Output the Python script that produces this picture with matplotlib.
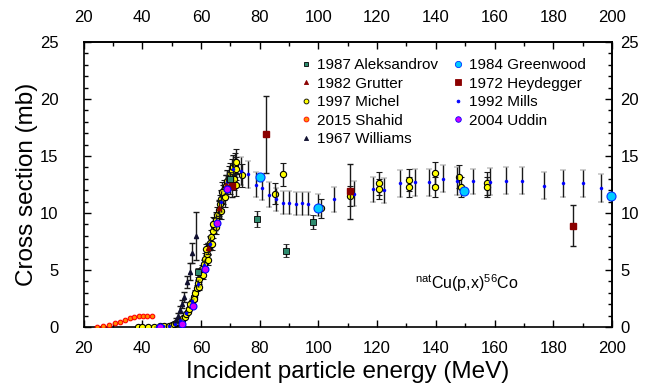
import matplotlib
matplotlib.use("Agg")
import matplotlib.pyplot as plt
from matplotlib.lines import Line2D

plt.rcParams['font.family'] = ['Liberation Sans', 'DejaVu Sans']
plt.rcParams['mathtext.fontset'] = 'custom'
plt.rcParams['mathtext.rm'] = 'Liberation Sans'
plt.rcParams['mathtext.it'] = 'Liberation Sans:italic'

# ---------------- data ----------------
aleks_E = [59.0, 70.0, 79.1, 89.0, 98.2]
aleks_s = [4.8, 13.0, 9.5, 6.7, 9.2]
aleks_e = [0.4, 0.6, 0.7, 0.6, 0.6]

green_E = [80.2, 99.9, 149.7, 199.7]
green_s = [13.2, 10.4, 11.9, 11.5]

grut_E = [62.5, 66.0, 68.5]
grut_s = [6.9, 10.4, 12.5]
grut_e = [0.5, 0.7, 0.8]

heyd_E = [70.5, 82.0, 110.8, 186.7]
heyd_s = [12.4, 16.9, 11.9, 8.9]
heyd_e = [1.0, 3.4, 2.4, 1.8]

mich_E = [38.5, 40.0, 42.0, 44.0, 46.0, 47.5, 49.0, 50.0, 50.8, 51.5,
          52.2, 52.8, 53.4, 54.0, 54.5, 55.0, 55.5, 56.0, 56.5, 57.0,
          57.5, 58.0, 58.5, 59.0, 59.5, 60.0, 60.5, 61.0, 61.5, 62.0,
          62.5, 63.0, 63.5, 64.0, 64.5, 65.0, 65.5, 66.0, 66.5, 67.0,
          67.5, 68.0, 68.5, 69.0, 69.5, 70.0, 70.5, 71.0, 71.5, 72.0,
          56.2, 57.8, 59.3, 60.8, 62.3, 63.8, 65.2, 66.8, 68.3, 69.8,
          71.2, 72.0, 71.8, 61.8, 64.2, 67.2,
          73.9, 85.3, 88.0, 101.0, 110.8, 120.7, 120.7, 130.8, 130.8,
          139.8, 139.8, 147.8, 148.7, 157.4, 157.4]
mich_s = [0.0, 0.0, 0.0, 0.02, 0.05, 0.08, 0.12, 0.18, 0.25, 0.32,
          0.42, 0.52, 0.63, 0.78, 0.92, 1.1, 1.35, 1.6, 1.9, 2.2,
          2.6, 3.0, 3.4, 3.85, 4.25, 4.65, 5.1, 5.5, 6.0, 6.4,
          6.9, 7.4, 7.9, 8.4, 8.9, 9.4, 9.8, 10.3, 10.8, 11.2,
          11.6, 12.0, 12.4, 12.8, 13.1, 13.4, 13.7, 14.0, 14.2, 13.9,
          2.0, 2.5, 3.5, 4.6, 5.9, 7.3, 8.8, 10.2, 11.4, 12.6,
          13.0, 12.5, 14.5, 6.8, 9.0, 11.8,
          13.3, 11.7, 13.4, 10.4, 11.5, 12.6, 12.1, 12.9, 12.3,
          13.5, 12.3, 13.2, 12.3, 12.6, 12.3]
mich_e = [0.0, 0.0, 0.0, 0.01, 0.01, 0.01, 0.02, 0.02, 0.03, 0.03,
          0.04, 0.05, 0.05, 0.06, 0.07, 0.08, 0.1, 0.12, 0.14, 0.16,
          0.2, 0.22, 0.25, 0.28, 0.3, 0.35, 0.38, 0.4, 0.45, 0.48,
          0.5, 0.55, 0.6, 0.62, 0.65, 0.7, 0.72, 0.75, 0.8, 0.85,
          0.85, 0.9, 0.9, 0.95, 1.0, 1.0, 1.0, 1.05, 1.05, 1.0,
          0.15, 0.2, 0.27, 0.35, 0.45, 0.55, 0.65, 0.75, 0.85, 0.95,
          1.0, 1.0, 1.1, 0.5, 0.65, 0.9,
          1.0, 0.9, 1.0, 0.8, 0.9, 1.0, 0.9, 1.0, 0.9,
          1.0, 0.9, 1.0, 0.9, 1.0, 0.9]

mills_E = [45.0, 47.0, 49.0, 51.0, 53.0, 55.0, 57.0, 59.0, 61.0, 63.0,
           65.0, 67.0, 69.0, 71.0,
           73.6, 76.1, 78.6, 80.9, 83.3, 85.6, 87.8, 90.1, 92.3, 94.3,
           96.6, 99.8, 105.4, 112.2, 118.7, 122.4, 127.8, 132.9, 137.8, 142.5,
           147.1, 152.8, 158.5, 163.9, 169.2, 177.0, 183.4, 190.0, 196.3]
mills_s = [0.0, 0.05, 0.12, 0.3, 0.6, 1.2, 2.3, 3.8, 5.4, 7.3,
           9.2, 11.0, 12.7, 13.9,
           13.7, 13.4, 12.5, 12.2, 11.6, 11.2, 10.9, 10.9, 10.8, 10.85,
           10.8, 10.7, 11.2, 11.7, 12.1, 12.0, 12.6, 12.7, 12.7, 13.0,
           12.8, 12.8, 12.75, 12.85, 12.85, 12.4, 12.6, 12.6, 12.2]
mills_e = [0.0, 0.01, 0.02, 0.03, 0.05, 0.1, 0.2, 0.3, 0.45, 0.6,
           0.75, 0.9, 1.0, 1.1,
           1.2, 1.2, 1.1, 1.1, 1.1, 1.0, 1.0, 1.0, 1.0, 1.0,
           1.0, 1.0, 1.1, 1.1, 1.1, 1.1, 1.2, 1.2, 1.2, 1.2,
           1.2, 1.1, 1.2, 1.2, 1.2, 1.2, 1.2, 1.2, 1.2]

shah_E = [24.7, 26.7, 28.8, 30.7, 32.4, 34.1, 35.8, 37.2, 38.9, 40.4, 41.7, 43.2]
shah_s = [0.0, 0.1, 0.2, 0.35, 0.47, 0.6, 0.75, 0.9, 0.96, 0.96, 1.0, 1.0]

udd_E = [46.0, 53.4, 57.4, 61.4, 65.4, 68.8]
udd_s = [0.02, 0.26, 1.8, 5.1, 9.1, 12.1]

will_E = [51.5, 52.3, 52.9, 53.6, 54.3, 55.4, 56.3, 57.1, 58.3]
will_s = [0.6, 1.0, 1.5, 2.0, 2.65, 3.95, 4.85, 6.5, 8.0]
will_e = [0.2, 0.25, 0.3, 0.35, 0.45, 0.55, 0.75, 0.9, 2.1]

xticks = [20, 40, 60, 80, 100, 120, 140, 160, 180, 200]
xminor = [30, 50, 70, 90, 110, 130, 150, 170, 190]
yticks = [0, 5, 10, 15, 20, 25]
yminor = [v for v in range(1, 25) if v % 5 != 0]

labels = ['1987 Aleksandrov', '1982 Grutter', '1997 Michel', '2015 Shahid', '1967 Williams',
          '1984 Greenwood', '1972 Heydegger', '1992 Mills', '2004 Uddin']

# ---------------- figure ----------------
fig = plt.figure(figsize=(6.49, 3.83), dpi=100)
ax = fig.add_axes([83.5/649, 1-327/383, (612-83.5)/649, (327-42)/383])

ebkw = dict(ecolor='#1a1a1a', elinewidth=1.0, capsize=2, capthick=1.0, linestyle='none')

ax.errorbar(mich_E, mich_s, yerr=mich_e, fmt='o', ms=4.5, mfc='#FFFF00', mec='black',
            mew=0.8, zorder=3, **ebkw)
ax.errorbar(mills_E, mills_s, yerr=mills_e, fmt='o', ms=2.2, mfc='#0000FF', mec='#0000FF',
            mew=0.3, zorder=4, **ebkw)
ax.errorbar(will_E, will_s, yerr=will_e, fmt='^', ms=3, mfc='#101030', mec='#101030',
            zorder=4, **ebkw)
ax.errorbar(grut_E, grut_s, yerr=grut_e, fmt='^', ms=3, mfc='#8B0000', mec='#8B0000',
            zorder=4, **ebkw)
ax.errorbar(aleks_E, aleks_s, yerr=aleks_e, fmt='s', ms=4.5, mfc='#2E8B6E', mec='black',
            mew=0.6, zorder=5, **ebkw)
ax.errorbar(heyd_E, heyd_s, yerr=heyd_e, fmt='s', ms=5, mfc='#8B0000', mec='#8B0000',
            zorder=5, **ebkw)
ax.plot(shah_E, shah_s, 'o', ms=3.3, mfc='#FF8C00', mec='#FF0000', mew=0.8, zorder=5)
ax.plot(udd_E, udd_s, 'o', ms=5, mfc='#CC00FF', mec='#0000FF', mew=0.8, zorder=6)
ax.plot(green_E, green_s, 'o', ms=6.5, mfc='#00CCFF', mec='#0033FF', mew=0.8, zorder=6,
        clip_on=False)

def h(marker, ms, fc, ec, mew=0.6):
    return Line2D([], [], marker=marker, ms=ms, mfc=fc, mec=ec, mew=mew, linestyle='none')
handles = [h('s', 3.5, '#2E8B6E', 'black'), h('^', 3, '#8B0000', '#8B0000'),
           h('o', 3.5, '#FFFF00', 'black'), h('o', 3.5, '#FF8C00', '#FF0000'),
           h('^', 3, '#101030', '#101030'),
           h('o', 4.5, '#00CCFF', '#0033FF'), h('s', 4, '#8B0000', '#8B0000'),
           h('o', 2, '#0000FF', '#0000FF'), h('o', 4, '#CC00FF', '#0000FF')]
ax.legend(handles, labels, ncol=2, frameon=False, loc='upper left',
          bbox_to_anchor=(0.4087, 0.944), borderpad=0, borderaxespad=0,
          handlelength=0.8, handletextpad=0.35, labelspacing=0.3,
          columnspacing=0.9, fontsize=11)

ax.text(132.9, 3.86, r'$^{\mathrm{nat}}$Cu(p,x)$^{\mathrm{56}}$Co',
        fontsize=11.5, va='center', ha='left')

ax.set_xlim(20, 200)
ax.set_ylim(0, 25)
ax.set_xticks(xticks)
ax.set_yticks(yticks)
ax.set_xticks(xminor, minor=True)
ax.set_yticks(yminor, minor=True)
ax.tick_params(which='both', direction='in', top=False, right=False, labelsize=12, width=1)
ax.tick_params(which='major', length=5)
ax.tick_params(which='minor', length=3)
ax.tick_params(axis='y', which='major', pad=18)
ax.tick_params(axis='x', which='major', pad=10)

secx = ax.secondary_xaxis('top')
secx.set_xticks(xticks)
secx.set_xticks(xminor, minor=True)
secx.tick_params(which='both', direction='in', labelsize=12, width=1)
secx.tick_params(which='major', length=5, pad=12)
secx.tick_params(which='minor', length=3)

secy = ax.secondary_yaxis('right')
secy.set_yticks(yticks)
secy.set_yticks(yminor, minor=True)
secy.tick_params(which='both', direction='in', labelsize=12, width=1)
secy.tick_params(which='major', length=5, pad=6)
secy.tick_params(which='minor', length=3)

for a in (ax, secx, secy):
    for sp in a.spines.values():
        sp.set_linewidth(1.2)

ax.set_xlabel('Incident particle energy (MeV)', fontsize=17.5)
ax.set_ylabel('Cross section (mb)', fontsize=17.5)
ax.xaxis.set_label_coords(0.5, (327-361)/285)
ax.yaxis.set_label_coords((38-83.5)/528.5, 0.5)

fig.savefig('out.png', dpi=100)
